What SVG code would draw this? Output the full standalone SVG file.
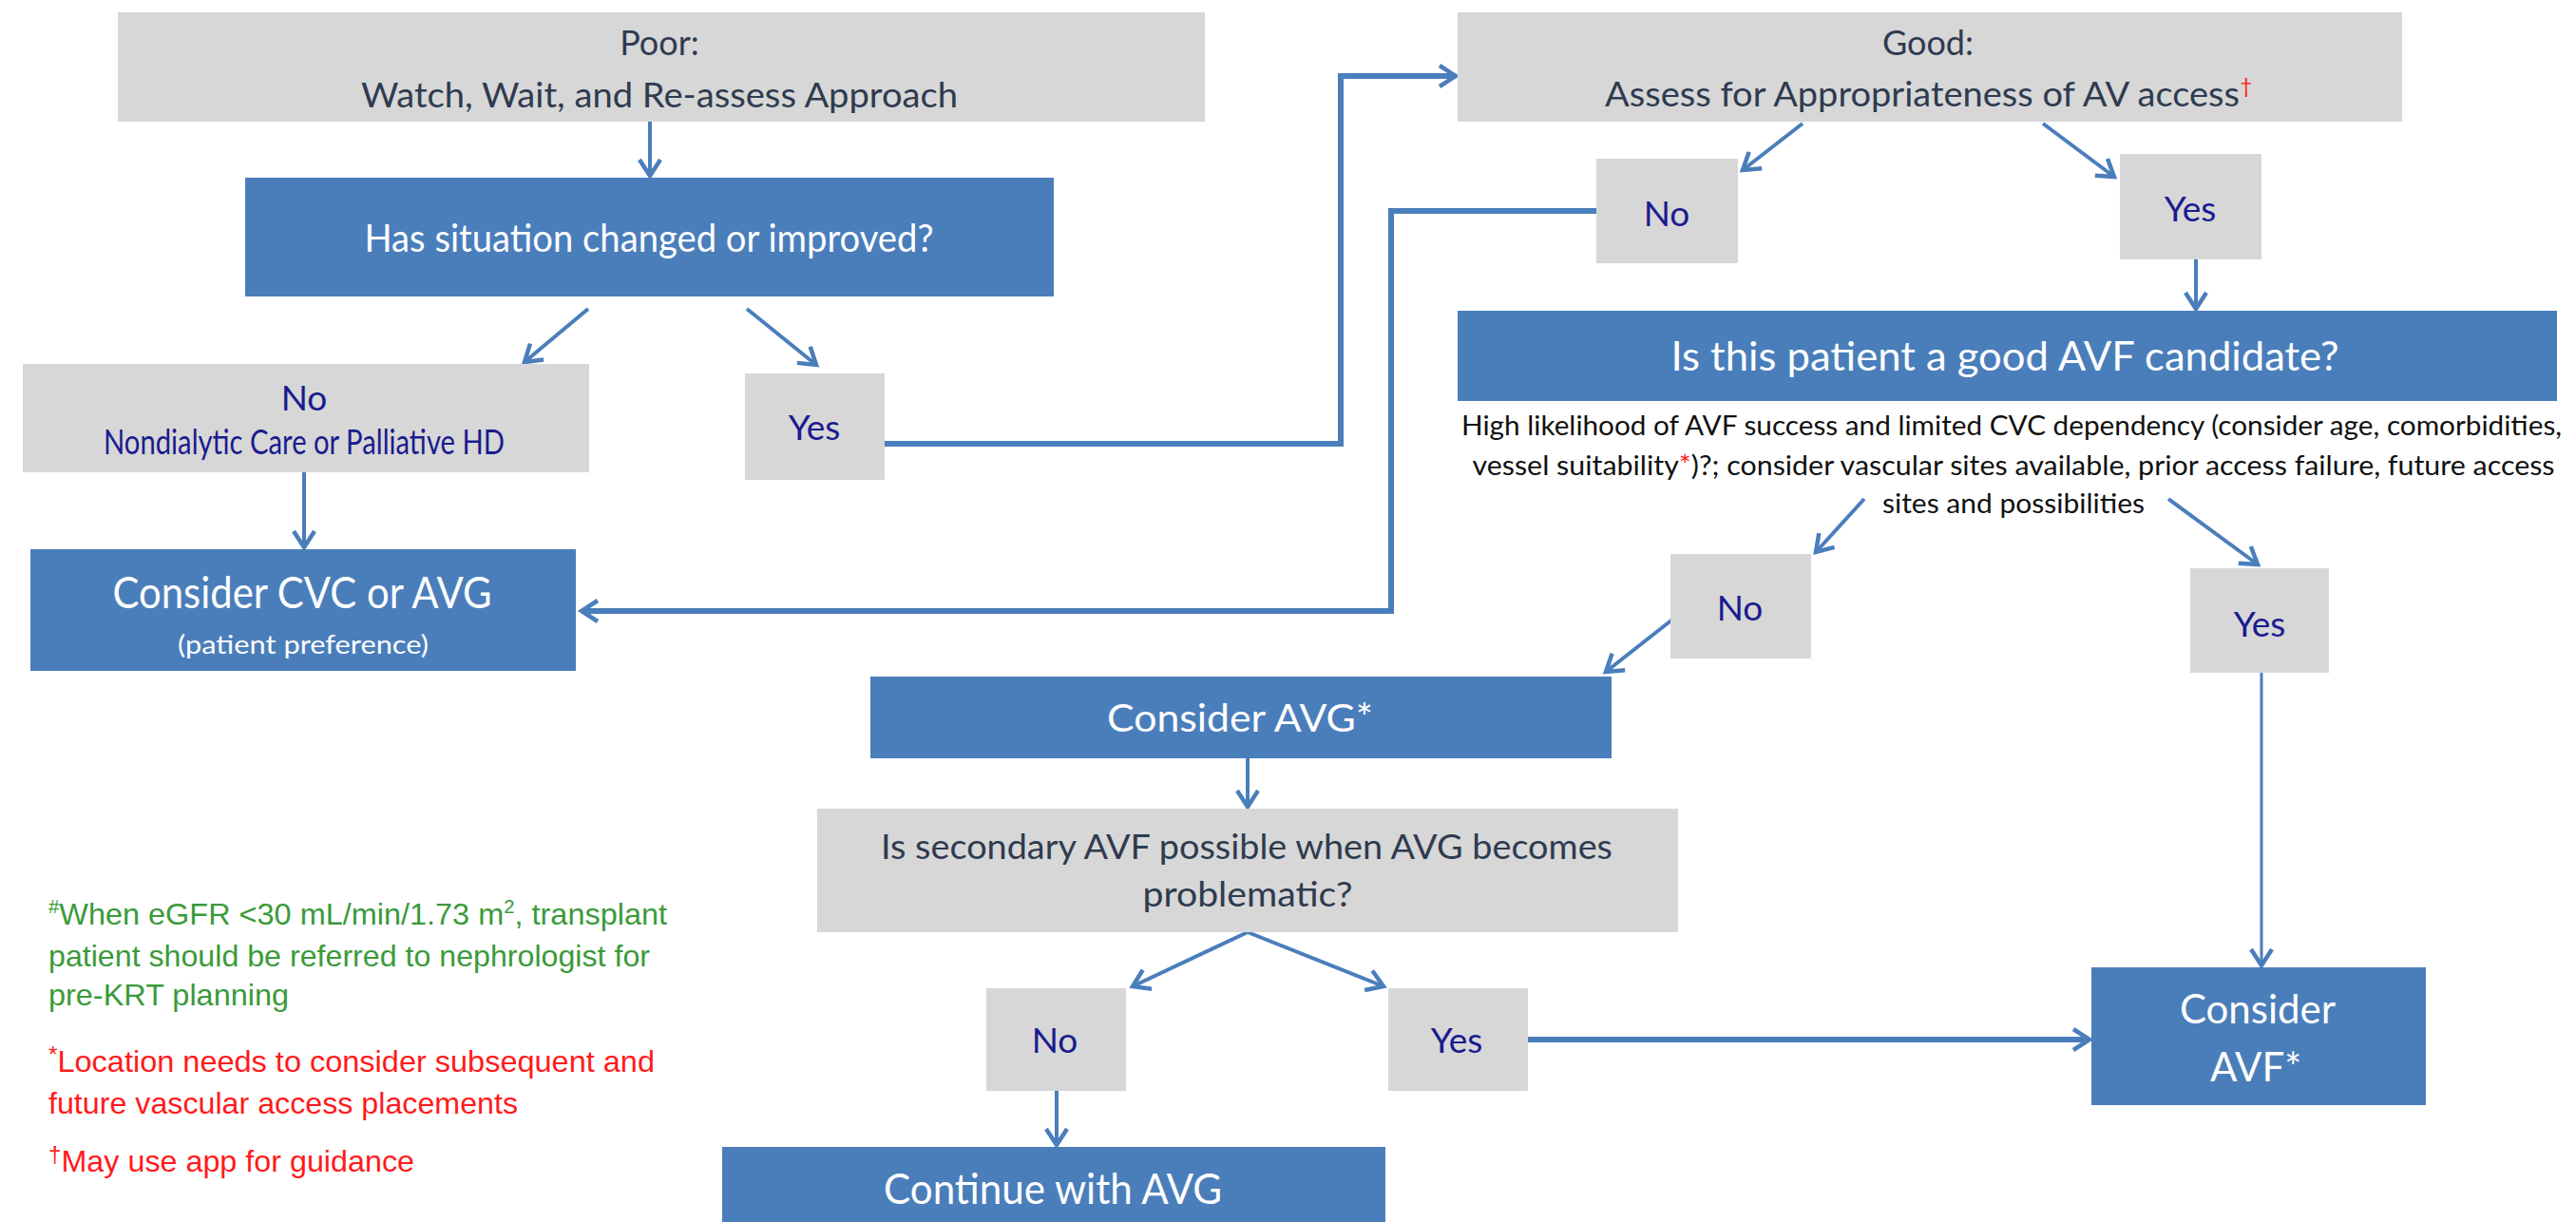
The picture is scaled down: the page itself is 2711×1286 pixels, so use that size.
<svg xmlns="http://www.w3.org/2000/svg" width="2711" height="1286" viewBox="0 0 2711 1286">
<style>
.gray{fill:#d7d7d7}
.blue{fill:#4a7ebb}
.c{fill:none;stroke:#4a7ebb;stroke-width:4;marker-end:url(#arr)}
.ct{fill:none;stroke:#4a7ebb;stroke-width:6;marker-end:url(#arr)}
.cs{fill:none;stroke:#4a7ebb;stroke-width:3;marker-end:url(#arr)}
text{font-family:Lato,"Liberation Sans",sans-serif;text-anchor:middle}
.dk{fill:#2f3b4f;font-size:36px}
.wt{fill:#ffffff}
.nv{fill:#1b1b8f;font-size:37px}
.ds{fill:#111111;font-size:28px}
.fn{font-family:"Liberation Sans",Arial,sans-serif;font-size:32px;text-anchor:start}
.gr{fill:#3a9a3a}
.rd{fill:#ff1a1a}
</style>
<defs>
<marker id="arr" markerUnits="userSpaceOnUse" markerWidth="32" markerHeight="32" refX="19" refY="13" orient="auto">
<path d="M2,2 L19,13 L2,24" fill="none" stroke="#4a7ebb" stroke-width="4.5" stroke-linejoin="miter"/>
</marker>
</defs>
<rect width="2711" height="1286" fill="#ffffff"/>

<g id="connectors">
<path class="c" d="M684,128 L684,185"/>
<path class="c" d="M619,325 L552,381"/>
<path class="c" d="M786,325 L859,384"/>
<path class="c" d="M320,497 L320,576"/>
<path class="ct" d="M931,467 L1411,467 L1411,80 L1532,80"/>
<path class="c" d="M1897,130 L1834,179"/>
<path class="c" d="M2150,130 L2225,186"/>
<path class="ct" d="M1680,222 L1464,222 L1464,643 L612,643"/>
<path class="c" d="M2311,273 L2311,325"/>
<path class="c" d="M1962,525 L1911,581"/>
<path class="c" d="M2282,525 L2376,594"/>
<path class="c" d="M1760,652 L1690,707"/>
<path class="cs" d="M2380,708 L2380,1016"/>
<path class="c" d="M1313,798 L1313,849"/>
<path class="c" d="M1313,981 L1192,1038"/>
<path class="c" d="M1313,981 L1456,1038"/>
<path class="ct" d="M1608,1094 L2199,1094"/>
<path class="c" d="M1112,1148 L1112,1205"/>
</g>

<g id="poor">
<rect class="gray" x="124" y="13" width="1144" height="115"/>
<text class="dk" x="694" y="58">Poor:</text>
<text class="dk" x="694" y="113" textLength="628" lengthAdjust="spacingAndGlyphs">Watch, Wait, and Re-assess Approach</text>
</g>

<g id="has-situation">
<rect class="blue" x="258" y="187" width="851" height="125"/>
<text class="wt" x="683" y="265" font-size="40" textLength="599" lengthAdjust="spacingAndGlyphs">Has situation changed or improved?</text>
</g>

<g id="no-1">
<rect class="gray" x="24" y="383" width="596" height="114"/>
<text class="nv" x="320" y="432">No</text>
<text class="nv" x="320" y="478" font-size="27" textLength="422" lengthAdjust="spacingAndGlyphs">Nondialytic Care or Palliative HD</text>
</g>

<g id="yes-1">
<rect class="gray" x="784" y="393" width="147" height="112"/>
<text class="nv" x="857" y="463" font-size="35">Yes</text>
</g>

<g id="consider-cvc">
<rect class="blue" x="32" y="578" width="574" height="128"/>
<text class="wt" x="318" y="640" font-size="46" textLength="399" lengthAdjust="spacingAndGlyphs">Consider CVC or AVG</text>
<text class="wt" x="319" y="688" font-size="26" textLength="264" lengthAdjust="spacingAndGlyphs">(patient preference)</text>
</g>

<g id="good">
<rect class="gray" x="1534" y="13" width="994" height="115"/>
<text class="dk" x="2029" y="58">Good:</text>
<text class="dk" x="2023" y="112" textLength="668" lengthAdjust="spacingAndGlyphs">Assess for Appropriateness of AV access</text>
<text class="rd" x="2364" y="98" font-size="22">†</text>
</g>

<g id="no-2">
<rect class="gray" x="1680" y="167" width="149" height="110"/>
<text class="nv" x="1754" y="238">No</text>
</g>

<g id="yes-2">
<rect class="gray" x="2231" y="162" width="149" height="111"/>
<text class="nv" x="2305" y="233" font-size="35">Yes</text>
</g>

<g id="avf-candidate">
<rect class="blue" x="1534" y="327" width="1157" height="95"/>
<text class="wt" x="2110" y="390" font-size="42" textLength="703" lengthAdjust="spacingAndGlyphs">Is this patient a good AVF candidate?</text>
<text class="ds" x="2117" y="458" textLength="1158" lengthAdjust="spacingAndGlyphs">High likelihood of AVF success and limited CVC dependency (consider age, comorbidities,</text>
<text class="ds" x="2119" y="500" textLength="1139" lengthAdjust="spacingAndGlyphs">vessel suitability<tspan class="rd">*</tspan>)?; consider vascular sites available, prior access failure, future access</text>
<text class="ds" x="2119" y="540" textLength="276" lengthAdjust="spacingAndGlyphs">sites and possibilities</text>
</g>

<g id="no-3">
<rect class="gray" x="1758" y="583" width="148" height="110"/>
<text class="nv" x="1831" y="653">No</text>
</g>

<g id="yes-3">
<rect class="gray" x="2305" y="598" width="146" height="110"/>
<text class="nv" x="2378" y="670" font-size="35">Yes</text>
</g>

<g id="consider-avg">
<rect class="blue" x="916" y="712" width="780" height="86"/>
<text class="wt" x="1305" y="770" font-size="40" textLength="280" lengthAdjust="spacingAndGlyphs">Consider AVG*</text>
</g>

<g id="secondary-avf">
<rect class="gray" x="860" y="851" width="906" height="130"/>
<text class="dk" x="1312" y="904" font-size="34" textLength="770" lengthAdjust="spacingAndGlyphs">Is secondary AVF possible when AVG becomes</text>
<text class="dk" x="1313" y="954" font-size="34" textLength="221" lengthAdjust="spacingAndGlyphs">problematic?</text>
</g>

<g id="no-4">
<rect class="gray" x="1038" y="1040" width="147" height="108"/>
<text class="nv" x="1110" y="1108">No</text>
</g>

<g id="yes-4">
<rect class="gray" x="1461" y="1040" width="147" height="108"/>
<text class="nv" x="1533" y="1108" font-size="35">Yes</text>
</g>

<g id="continue-avg">
<rect class="blue" x="760" y="1207" width="698" height="90"/>
<text class="wt" x="1108" y="1267" font-size="44" textLength="356" lengthAdjust="spacingAndGlyphs">Continue with AVG</text>
</g>

<g id="consider-avf">
<rect class="blue" x="2201" y="1018" width="352" height="145"/>
<text class="wt" x="2376" y="1077" font-size="42">Consider</text>
<text class="wt" x="2374" y="1138" font-size="42">AVF*</text>
</g>

<g id="footnotes">
<text class="fn gr" x="51" y="973" textLength="651" lengthAdjust="spacingAndGlyphs"><tspan font-size="20" dy="-12">#</tspan><tspan dy="12">When eGFR &lt;30 mL/min/1.73 m</tspan><tspan font-size="20" dy="-12">2</tspan><tspan dy="12">, transplant</tspan></text>
<text class="fn gr" x="51" y="1017" textLength="633" lengthAdjust="spacingAndGlyphs">patient should be referred to nephrologist for</text>
<text class="fn gr" x="51" y="1058" textLength="253" lengthAdjust="spacingAndGlyphs">pre-KRT planning</text>
<text class="fn rd" x="51" y="1128" textLength="638" lengthAdjust="spacingAndGlyphs"><tspan font-size="24" dy="-10">*</tspan><tspan dy="10">Location needs to consider subsequent and</tspan></text>
<text class="fn rd" x="51" y="1172" textLength="494" lengthAdjust="spacingAndGlyphs">future vascular access placements</text>
<text class="fn rd" x="51" y="1233" textLength="385" lengthAdjust="spacingAndGlyphs"><tspan font-size="24" dy="-10">†</tspan><tspan dy="10">May use app for guidance</tspan></text>
</g>
</svg>
